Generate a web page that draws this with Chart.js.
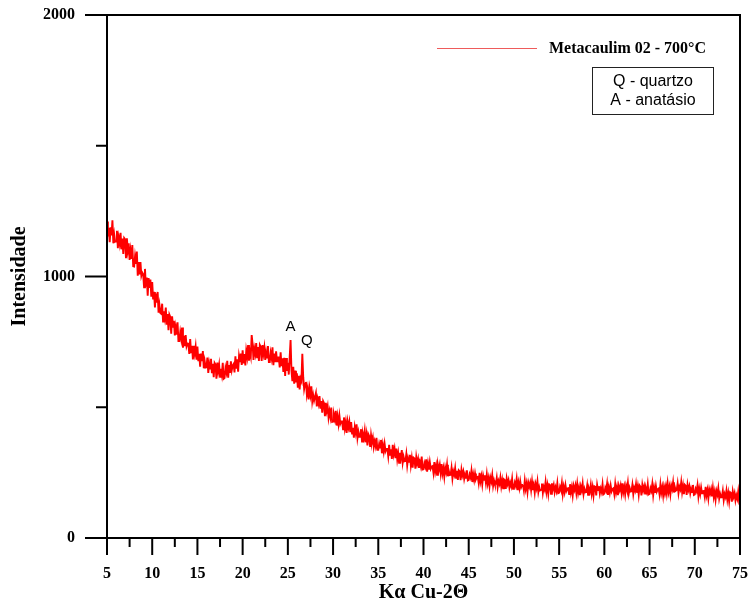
<!DOCTYPE html>
<html>
<head>
<meta charset="utf-8">
<script src="https://cdn.jsdelivr.net/npm/chart.js@4/dist/chart.umd.min.js"></script>
<style>
html,body{margin:0;padding:0;background:#fff;}
canvas{display:block;}
</style>
</head>
<body>
<canvas id="c" width="749" height="603"></canvas>
<script>
// ---- data ----
const seriesLabel = 'Metacaulim 02 - 700°C';
const angleStart = 5.0;   // first sampled 2θ
const angleStep = 0.1;    // sampling step of the pattern
const intensity = [
  1210,1153,1186,1131,1188,1157,1215,1127,1160,1133, // 5
  1134,1175,1108,1149,1126,1167,1104,1145,1086,1147, // 6
  1142,1070,1146,1100,1127,1063,1099,1067,1120,1039, // 7
  1038,1077,1048,1095,1003,1055,1008,1055,1003,1015, // 8
  1009,959,1029,961,996,927,994,956,988,923,         // 9
  979,912,941,882,935,900,941,862,891,860,           // 10
  857,896,828,867,842,881,816,856,795,854,           // 11
  845,781,848,808,831,775,806,778,825,753,           // 12
  753,787,763,805,728,773,734,776,733,744,           // 13
  743,704,761,707,735,683,735,706,732,682,           // 14
  732,676,704,655,705,676,715,649,677,652,           // 15
  653,690,631,668,648,685,630,666,615,669,           // 16
  663,609,671,638,662,616,647,625,670,609,           // 17
  612,650,634,678,613,661,631,676,642,659,           // 18
  665,633,695,648,683,636,695,673,705,662,           // 19
  718,668,703,660,716,693,738,678,713,694,           // 20
  776,742,681,723,704,745,688,730,677,738,           // 21
  731,677,738,705,729,681,712,690,734,673,           // 22
  673,708,688,729,661,705,672,714,676,690,           // 23
  690,652,710,657,687,635,689,620,688,639,           // 24
  670,625,690,757,640,600,655,590,640,595,           // 25  (A)
  630,575,620,568,610,600,704,615,570,590,           // 26  (Q)
  597,549,572,530,572,547,580,523,546,525,           // 27
  525,554,503,532,514,543,495,524,479,523,           // 28
  515,466,517,486,504,461,485,463,499,444,           // 29
  445,471,454,486,430,464,436,468,437,446,           // 30
  446,416,461,420,443,402,445,423,444,405,           // 31
  443,399,422,384,424,403,435,383,406,387,           // 32
  387,416,369,398,382,410,366,395,354,397,           // 33
  389,348,393,367,384,348,369,352,383,337,           // 34
  337,361,346,375,324,356,331,360,332,341,           // 35
  341,313,356,318,339,302,356,321,341,305,           // 36
  342,301,324,288,326,307,336,288,310,293,           // 37
  294,321,278,305,291,318,278,305,269,307,           // 38
  304,265,309,285,302,268,290,274,311,262,           // 39
  263,286,273,301,254,285,262,290,265,273,           // 40
  275,250,290,255,276,242,279,262,280,248,           // 41
  283,246,266,234,269,252,280,236,256,241,           // 42
  242,268,228,255,242,267,230,257,222,259,           // 43
  255,221,261,240,254,226,244,230,259,220,           // 44
  222,243,232,257,214,243,222,247,225,233,           // 45
  234,211,249,217,236,205,239,223,240,211,           // 46
  243,209,229,199,231,216,241,200,220,206,           // 47
  207,230,195,218,207,231,198,221,190,224,           // 48
  221,188,227,207,221,193,211,198,226,188,           // 49
  190,212,200,226,183,212,191,217,194,203,           // 50
  204,182,219,188,208,176,211,196,212,184,           // 51
  216,183,202,173,206,190,216,176,195,182,           // 52
  184,208,173,196,185,214,177,201,170,205,           // 53
  202,169,209,188,203,175,194,180,209,171,           // 54
  173,195,184,210,168,196,176,202,180,189,           // 55
  190,168,206,175,195,164,199,184,201,173,           // 56
  206,173,193,164,197,182,208,168,188,175,           // 57
  176,200,165,189,178,203,170,194,163,198,           // 58
  196,163,203,183,198,170,189,176,205,167,           // 59
  170,192,181,207,165,194,174,200,178,187,           // 60
  190,168,206,175,195,164,199,184,201,173,           // 61
  209,176,196,167,200,185,211,171,191,178,           // 62
  179,203,168,192,181,206,173,197,166,201,           // 63
  196,163,203,183,198,170,189,176,205,167,           // 64
  169,191,180,206,164,193,173,199,177,186,           // 65
  189,167,205,174,194,163,198,183,200,172,           // 66
  208,176,196,167,201,187,213,174,194,181,           // 67
  184,208,172,196,186,214,176,200,168,203,           // 68
  199,165,204,184,198,171,189,176,203,165,           // 69
  167,188,179,202,160,188,168,193,171,179,           // 70
  180,158,196,164,183,152,186,171,187,159,           // 71
  191,157,177,147,180,166,190,151,169,156,           // 72
  157,180,145,168,157,181,147,171,140,175,           // 73
  172,139,178,158,172,144,163,150,177,141,           // 74
  150                                                // 75
];
const xMajorTicks = [5,10,15,20,25,30,35,40,45,50,55,60,65,70,75];
const xMinorTicks = [7.5,12.5,17.5,22.5,27.5,32.5,37.5,42.5,47.5,52.5,57.5,62.5,67.5,72.5];
const yMajorTicks = [0,1000,2000];
const yMinorTicks = [500,1500];
const peakLabels = ['A','Q'];
const peakLabelX = [25.3, 27.1];
const peakLabelY = [808, 752];
const phaseNotes = ['Q - quartzo','A - anatásio'];

const points = intensity.map((v,i)=>({x: +(angleStart + i*angleStep).toFixed(2), y: v}));

const SERIF = '"Liberation Serif", "DejaVu Serif", serif';
const SANS = '"Liberation Sans", Arial, sans-serif';

const decor = {
  id: 'decor',
  afterDraw(chart){
    const ctx = chart.ctx;
    const xs = chart.scales.x, ys = chart.scales.y;
    const L = xs.getPixelForValue(5), R = xs.getPixelForValue(75);
    const T = ys.getPixelForValue(2000), B = ys.getPixelForValue(0);
    ctx.save();
    ctx.strokeStyle = '#000';
    ctx.lineWidth = 2;
    ctx.beginPath();
    ctx.moveTo(L, T-1); ctx.lineTo(L, B+17);
    ctx.moveTo(R, T-1); ctx.lineTo(R, B+17);
    ctx.moveTo(L-22, T); ctx.lineTo(R+1, T);
    ctx.moveTo(L-22, B); ctx.lineTo(R+1, B);
    yMajorTicks.forEach(v=>{ const y = ys.getPixelForValue(v); ctx.moveTo(L-22, y); ctx.lineTo(L, y); });
    yMinorTicks.forEach(v=>{ const y = ys.getPixelForValue(v); ctx.moveTo(L-11, y); ctx.lineTo(L, y); });
    xMajorTicks.forEach(v=>{ const x = xs.getPixelForValue(v); ctx.moveTo(x, B); ctx.lineTo(x, B+17); });
    xMinorTicks.forEach(v=>{ const x = xs.getPixelForValue(v); ctx.moveTo(x, B); ctx.lineTo(x, B+9); });
    ctx.stroke();

    // legend line + text
    ctx.strokeStyle = '#ee5b5b';
    ctx.lineWidth = 1.2;
    ctx.beginPath();
    ctx.moveTo(437, 48.5); ctx.lineTo(537, 48.5);
    ctx.stroke();
    ctx.fillStyle = '#000';
    ctx.font = 'bold 16px ' + SERIF;
    ctx.textAlign = 'left';
    ctx.textBaseline = 'middle';
    ctx.fillText(seriesLabel, 549, 49);

    // phase box
    ctx.strokeStyle = '#222';
    ctx.lineWidth = 1;
    ctx.strokeRect(592.5, 67.5, 121, 47);
    ctx.font = '16px ' + SANS;
    ctx.textAlign = 'center';
    ctx.fillText(phaseNotes[0], 653, 82);
    ctx.fillText(phaseNotes[1], 653, 101);

    // peak labels
    ctx.font = '15px ' + SANS;
    peakLabels.forEach((t,i)=>{
      ctx.fillText(t, xs.getPixelForValue(peakLabelX[i]), ys.getPixelForValue(peakLabelY[i]));
    });
    ctx.restore();
  }
};

new Chart(document.getElementById('c'), {
  type: 'line',
  data: {
    datasets: [{
      label: seriesLabel,
      data: points,
      borderColor: '#ff0000',
      borderWidth: 1.9,
      pointRadius: 0,
      tension: 0,
      fill: false
    }]
  },
  options: {
    responsive: false,
    animation: false,
    devicePixelRatio: 1,
    parsing: false,
    layout: { padding: { top: 15, right: 9, left: 0, bottom: 0 } },
    plugins: { legend: { display: false }, tooltip: { enabled: false } },
    scales: {
      x: {
        type: 'linear', min: 5, max: 75,
        afterBuildTicks: s => { s.ticks = xMajorTicks.map(v => ({ value: v })); },
        afterFit: s => { s.height = 65; s.paddingLeft = 0; s.paddingRight = 0; },
        grid: { display: false, drawTicks: false },
        border: { display: false },
        ticks: { autoSkip: false, maxRotation: 0, minRotation: 0, padding: 26, color: '#000',
                 callback: v => String(v),
                 font: { family: SERIF, weight: 'bold', size: 16 } },
        title: { display: true, text: 'Kα Cu-2Θ', color: '#000', padding: { top: 0, bottom: 0 },
                 font: { family: SERIF, weight: 'bold', size: 20, lineHeight: 1 } }
      },
      y: {
        type: 'linear', min: 0, max: 2000,
        afterBuildTicks: s => { s.ticks = yMajorTicks.map(v => ({ value: v })); },
        afterFit: s => { s.width = 107; s.paddingTop = 0; s.paddingBottom = 0; },
        grid: { display: false, drawTicks: false },
        border: { display: false },
        ticks: { padding: 32, color: '#000', callback: v => String(v),
                 font: { family: SERIF, weight: 'bold', size: 16 } },
        title: { display: true, text: 'Intensidade', color: '#000', padding: { top: 10, bottom: 0 },
                 font: { family: SERIF, weight: 'bold', size: 20, lineHeight: 1 } }
      }
    }
  },
  plugins: [decor]
});
</script>
</body>
</html>
